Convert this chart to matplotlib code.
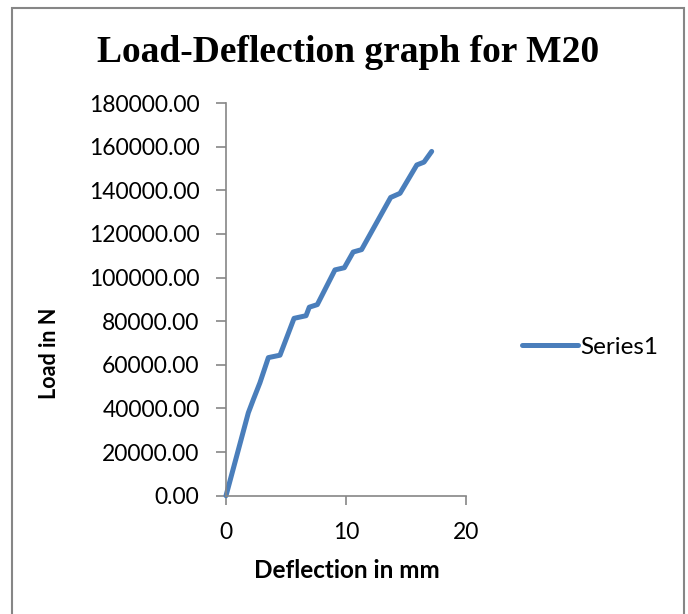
import matplotlib
matplotlib.use("Agg")
import matplotlib.pyplot as plt
from matplotlib.patches import Rectangle

deflection = [0, 1.86, 2.28, 2.83, 3.53, 4.5, 5.67, 6.67, 6.94, 7.61, 9.08, 9.86,
              10.6, 11.3, 13.72, 14.5, 15.9, 16.5, 17.14]
load = [0, 38000, 44100, 51800, 63300, 64400, 81300, 82500, 86400, 87600, 103500,
        104500, 111700, 112800, 136700, 138600, 151600, 152900, 157800]
x_ticks = [0, 10, 20]
y_ticks = [0, 20000, 40000, 60000, 80000, 100000, 120000, 140000, 160000, 180000]

title = "Load-Deflection graph for M20"
xlabel = "Deflection in mm"
ylabel = "Load in N"
series_name = "Series1"

sans = ["Lato", "DejaVu Sans"]
gray = "#868686"
W, H = 688, 614

fig = plt.figure(figsize=(6.88, 6.14), dpi=100)
fig.patch.set_facecolor("white")
fig.patches.append(Rectangle((12 / W, -0.05), (684 - 12) / W, 1 - 8 / H + 0.05,
                             transform=fig.transFigure, fill=False,
                             edgecolor=gray, linewidth=1.5))

ax = fig.add_axes([226 / W, 1 - 495.7 / H, 240 / W, (495.7 - 103) / H])
line, = ax.plot(deflection, load, color="#4A7EBB", linewidth=3.6,
                solid_capstyle="round", solid_joinstyle="round", label=series_name,
                clip_on=False)
ax.set_xlim(0, 20)
ax.set_ylim(0, 180000)
ax.set_xticks(x_ticks)
ax.set_yticks(y_ticks)
ax.set_xticklabels([str(v) for v in x_ticks], fontfamily=sans, fontsize=16.5)
ax.set_yticklabels([f"{v:.2f}" for v in y_ticks], fontfamily=sans, fontsize=16.5)
for s in ["top", "right"]:
    ax.spines[s].set_visible(False)
for s in ["left", "bottom"]:
    ax.spines[s].set_color(gray)
    ax.spines[s].set_linewidth(1.2)
ax.tick_params(axis="both", direction="out", color=gray, width=1.2, colors="black")
ax.tick_params(axis="x", length=6.5, pad=12.5)
ax.tick_params(axis="y", length=7.5, pad=11.5)

fig.text(346.5 / W, 1 - 578 / H, xlabel, ha="center", va="baseline",
         fontfamily=sans, fontweight="bold", fontsize=17.5)
fig.text(49 / W, 1 - 353 / H, ylabel, ha="center", va="center", rotation=90,
         fontfamily=sans, fontweight="bold", fontsize=15.5)

fig.text(348 / W, 1 - 62 / H, title, ha="center", va="baseline",
         fontfamily=["Liberation Serif", "DejaVu Serif"], fontweight="bold", fontsize=27)

fig.legend(handles=[line], labels=[series_name], loc="center left",
           bbox_to_anchor=(512 / W, 1 - 347 / H), frameon=False,
           prop={"family": sans, "size": 17.5}, handlelength=2.3, handletextpad=0.12,
           borderaxespad=0)

fig.savefig("out.png", dpi=100, facecolor="white")
